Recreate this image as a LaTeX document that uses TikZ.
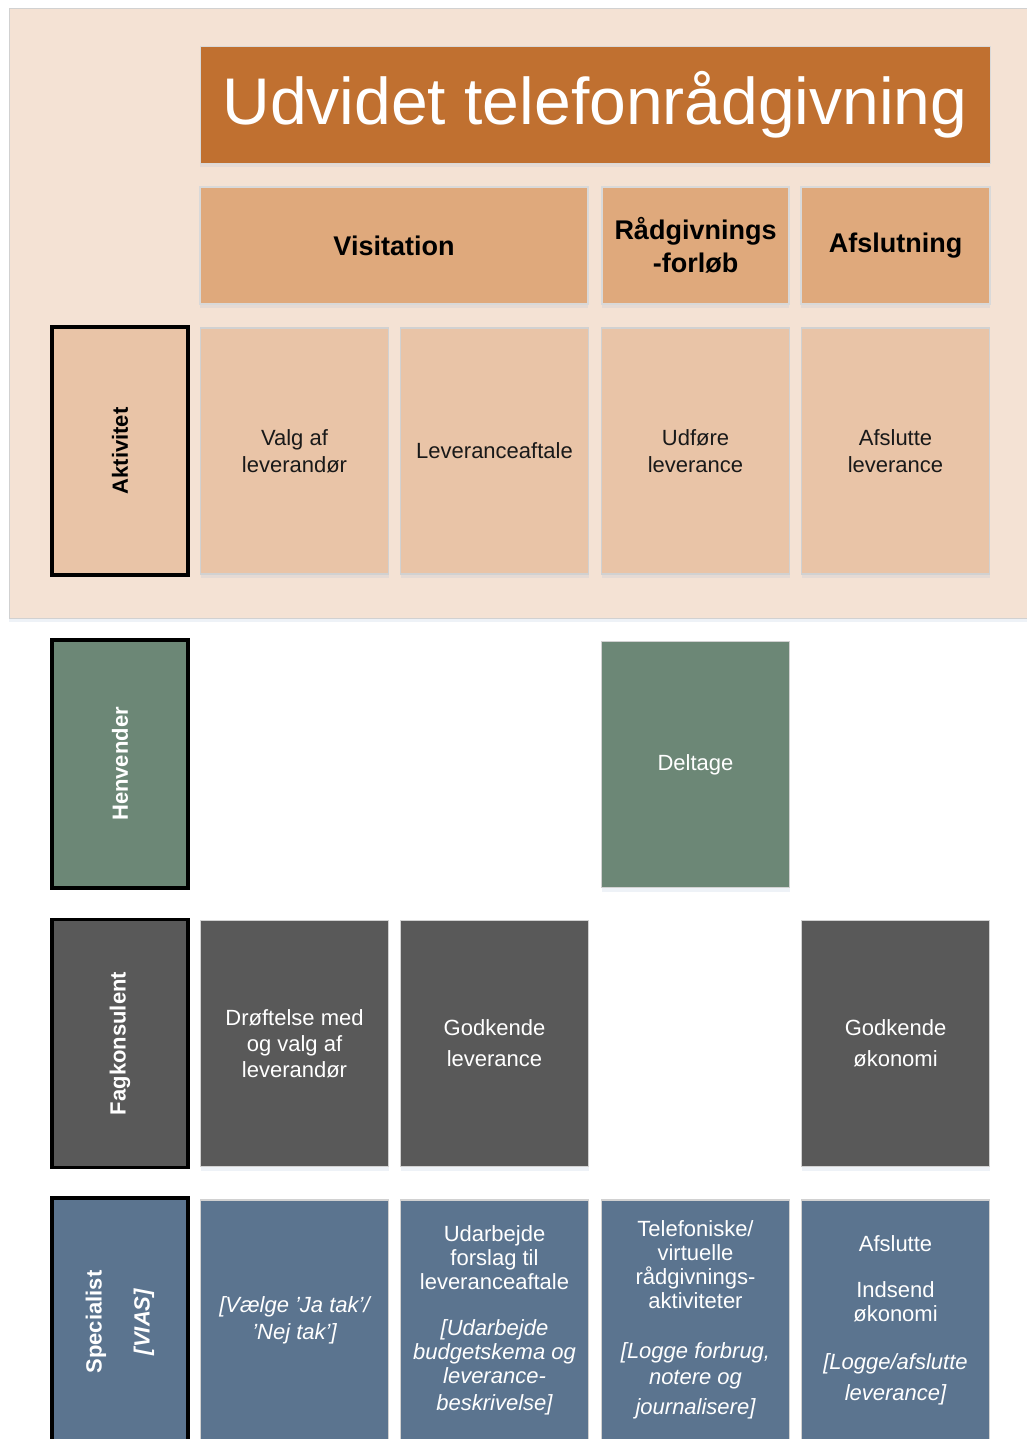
\documentclass[tikz,border=0pt]{standalone}
\usepackage{fontspec}
\setmainfont{Liberation Sans}
\usetikzlibrary{shadows}
\definecolor{panelbg}{RGB}{244,226,212}
\definecolor{titlebg}{RGB}{192,112,48}
\definecolor{phasebg}{RGB}{223,169,124}
\definecolor{actbg}{RGB}{233,196,167}
\definecolor{henbg}{RGB}{108,135,118}
\definecolor{fagbg}{RGB}{89,89,89}
\definecolor{specbg}{RGB}{91,116,143}
\definecolor{shade}{RGB}{170,190,215}
\begin{document}
\begin{tikzpicture}[x=0.5pt,y=-0.5pt,
  soft/.style={drop shadow={shadow xshift=0pt, shadow yshift=-2pt, opacity=.2, fill=shade}},
  cell/.style={rectangle, soft, draw=black!18, line width=.6pt, minimum width=94pt,
    minimum height=123pt, align=center, inner sep=2pt,
    font=\fontsize{11}{12}\selectfont},
  phase/.style={rectangle, soft, draw=black!15, line width=.6pt, fill=phasebg,
    minimum height=58.5pt, align=center, font=\bfseries\fontsize{13.5}{16.5}\selectfont},
  role/.style={rectangle, rotate=90, draw=black, line width=1.6pt, minimum width=124pt,
    minimum height=68pt, align=center, font=\bfseries\fontsize{11}{13}\selectfont}]
\useasboundingbox (0,0) rectangle (1027,1439);
\clip (0,0) rectangle (1027,1439);
% background panel
\path[fill=white] (0,0) rectangle (1027,1439);
\draw[panelbg, fill=panelbg, draw=black!18, soft] (9,8) rectangle (1060,618);
% title and phases
\node[rectangle, soft, fill=titlebg, draw=black!15, minimum width=395pt, minimum height=58.5pt,
  text=white, font=\fontsize{33}{36}\selectfont] (title) at (595,104.5) {Udvidet telefonrådgivning};
\node[phase, minimum width=194pt] (visit) at (394,245.5) {Visitation};
\node[phase, minimum width=93.5pt] (forloeb) at (695.5,245.5) {Rådgivnings\\-forløb};
\node[phase, minimum width=94.5pt] (afslut) at (895.5,245.5) {Afslutning};
% Aktivitet
\node[role, fill=actbg] (akt) at (120,451) {Aktivitet};
\node[cell, fill=actbg, text=black!90] (akt1) at (294.5,451) {Valg af\\[1.5pt]leverandør};
\node[cell, fill=actbg, text=black!90] (akt2) at (494.5,451) {Leveranceaftale};
\node[cell, fill=actbg, text=black!90] (akt3) at (695.5,451) {Udføre\\[1.5pt]leverance};
\node[cell, fill=actbg, text=black!90] (akt4) at (895.5,451) {Afslutte\\[1.5pt]leverance};
% Henvender
\node[role, fill=henbg, text=white] (hen) at (120,764) {Henvender};
\node[cell, fill=henbg, text=white] (hen3) at (695.5,764.5) {Deltage};
% Fagkonsulent
\node[role, fill=fagbg, text=white] (fag) at (120,1043.5) {Fagkonsulent};
\node[cell, fill=fagbg, text=white] (fag1) at (294.5,1043.5) {Drøftelse med\\[1pt]og valg af\\[1pt]leverandør};
\node[cell, fill=fagbg, text=white] (fag2) at (494.5,1043.5) {Godkende\\[3.5pt]leverance};
\node[cell, fill=fagbg, text=white] (fag4) at (895.5,1043.5) {Godkende\\[3.5pt]økonomi};
% Specialist
\node[role, fill=specbg, text=white] (spec) at (120,1322) {Specialist\\[11pt]\itshape [VIAS]};
\node[cell, fill=specbg, text=white, minimum height=120pt] (spec1) at (294.5,1320) {\itshape [Vælge ’Ja tak’/\\[1.5pt]\itshape ’Nej tak’]};
\node[cell, fill=specbg, text=white, minimum height=120pt] (spec2) at (494.5,1320) {Udarbejde\\forslag til\\leveranceaftale\\[11pt]
  \itshape [Udarbejde\\\itshape budgetskema og\\\itshape leverance-\\[1.5pt]\itshape beskrivelse]};
\node[cell, fill=specbg, text=white, minimum height=120pt] (spec3) at (695.5,1320) {Telefoniske/\\virtuelle\\rådgivnings-\\aktiviteter\\[13pt]
  \itshape [Logge forbrug,\\[1pt]\itshape notere og\\[3pt]\itshape journalisere]};
\node[cell, fill=specbg, text=white, minimum height=120pt] (spec4) at (895.5,1320) {Afslutte\\[11pt]Indsend\\økonomi\\[12pt]
  \itshape [Logge/afslutte\\[3.5pt]\itshape leverance]};
\end{tikzpicture}
\end{document}
